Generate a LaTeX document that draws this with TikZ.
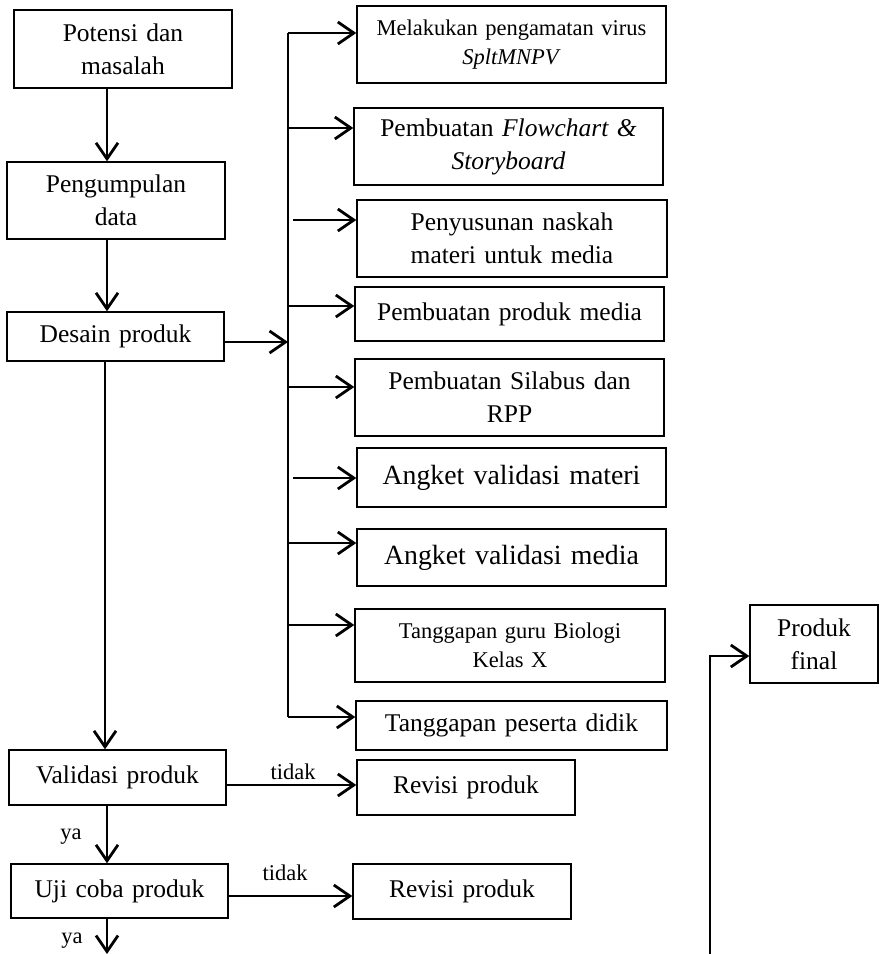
\documentclass[tikz,border=0pt]{standalone}
\usepackage{fontspec}
\setmainfont{Liberation Serif}
\usepackage{tikz}
\usetikzlibrary{arrows,arrows.meta,positioning,calc}

\newcommand{\txtn}{\fontsize{25.5}{33}\selectfont}
\newcommand{\txts}{\fontsize{22.5}{29}\selectfont}
\newcommand{\txtl}{\fontsize{27.8}{34}\selectfont}

\tikzset{
  box/.style={draw, line width=1.4pt, inner xsep=4pt, inner ysep=0pt, align=center, font=\txtn},
  conn/.style={line width=2.8pt, -{Straight Barb[length=16pt,width=22pt]}},
  lbl/.style={inner sep=0pt, font=\txts}
}

\begin{document}
\begin{tikzpicture}[x=1pt, y=-1pt]
  \useasboundingbox (0,0) rectangle (880,954);

  % main column
  \node[box, text width=210, minimum height=78] (pot) at (123,49) {Potensi dan\\masalah};
  \node[box, text width=210, minimum height=77] (peng) at (116,200.5) {Pengumpulan\\data};
  \node[box, text width=209, minimum height=49] (des) at (115.5,336.5) {Desain produk};
  \node[box, text width=209, minimum height=55] (val) at (117.5,777.5) {Validasi produk};
  \node[box, text width=209, minimum height=54] (uji) at (119.5,891) {Uji coba produk};
  \node[box, text width=210, minimum height=55] (rev1) at (466,787.5) {Revisi produk};
  \node[box, text width=210, minimum height=55] (rev2) at (462,891.5) {Revisi produk};
  \node[box, text width=120, minimum height=78] (fin) at (814,644) {Produk\\final};

  % design steps
  \node[box, font=\txts, text width=301, minimum height=77] (obs) at (511.5,44.5) {Melakukan pengamatan virus\\\textit{SpltMNPV}};
  \node[box, text width=301, minimum height=77] (flow) at (508.5,146.5) {Pembuatan \textit{Flowchart \&}\\\textit{Storyboard}};
  \node[box, text width=302, minimum height=77] (nask) at (512,238.5) {Penyusunan naskah\\materi untuk media};
  \node[box, text width=301, minimum height=54] (prod) at (509.5,314) {Pembuatan produk media};
  \node[box, text width=301, minimum height=77] (sil) at (509.5,397.5) {Pembuatan Silabus dan\\RPP};
  \node[box, font=\txtl, text width=301, minimum height=59] (amat) at (511.5,477.5) {Angket validasi materi};
  \node[box, font=\txtl, text width=301, minimum height=57] (amed) at (511.5,557.5) {Angket validasi media};
  \node[box, font=\txts, text width=302, minimum height=73] (guru) at (510,645.5) {Tanggapan guru Biologi\\Kelas X};
  \node[box, text width=303, minimum height=49] (sis) at (511.5,725.5) {Tanggapan peserta didik};

  % bus and spine
  \coordinate (spine) at (107,0);
  \coordinate (bus) at (288,0);
  \draw[line width=2.8pt] (288,33) -- (288,717);

  \draw[conn] (pot.south -| spine) -- (peng.north -| spine);
  \draw[conn] (peng.south -| spine) -- (des.north -| spine);
  \draw[conn] ([yshift=-5.5pt]des.east) -- ([yshift=-5.5pt]des.east -| bus);
  \draw[conn] (des.south -| 105,0) -- (val.north -| 105,0);

  \draw[conn] (bus |- 0,33) -- (obs.west |- 0,33);
  \draw[conn] (bus |- 0,128) -- (flow.west |- 0,128);
  \draw[conn] (293,220) -- (nask.west |- 0,220);
  \draw[conn] (bus |- 0,306) -- (prod.west |- 0,306);
  \draw[conn] (bus |- 0,387) -- (sil.west |- 0,387);
  \draw[conn] (293,478) -- (amat.west |- 0,478);
  \draw[conn] (bus |- 0,543) -- (amed.west |- 0,543);
  \draw[conn] (bus |- 0,625) -- (guru.west |- 0,625);
  \draw[conn] (bus |- 0,717) -- (sis.west |- 0,717);

  % decisions
  \draw[conn] ([yshift=-7.5pt]val.east) -- ([yshift=-7.5pt]val.east -| rev1.west);
  \node[lbl] (t1) at (293,772) {tidak};
  \draw[conn] (val.south -| spine) -- (uji.north -| spine);
  \node[lbl] (y1) at (71,837) {ya};
  \draw[conn] ([yshift=-5pt]uji.east) -- ([yshift=-5pt]uji.east -| rev2.west);
  \node[lbl] (t2) at (285,873) {tidak};
  \coordinate (end) at (107,954);
  \draw[conn] (uji.south -| spine) -- (end);
  \node[lbl] (y2) at (72,941) {ya};

  \coordinate (up) at (710,954);
  \draw[conn] (up) |- ([yshift=-12pt]fin.west);
\end{tikzpicture}
\end{document}
